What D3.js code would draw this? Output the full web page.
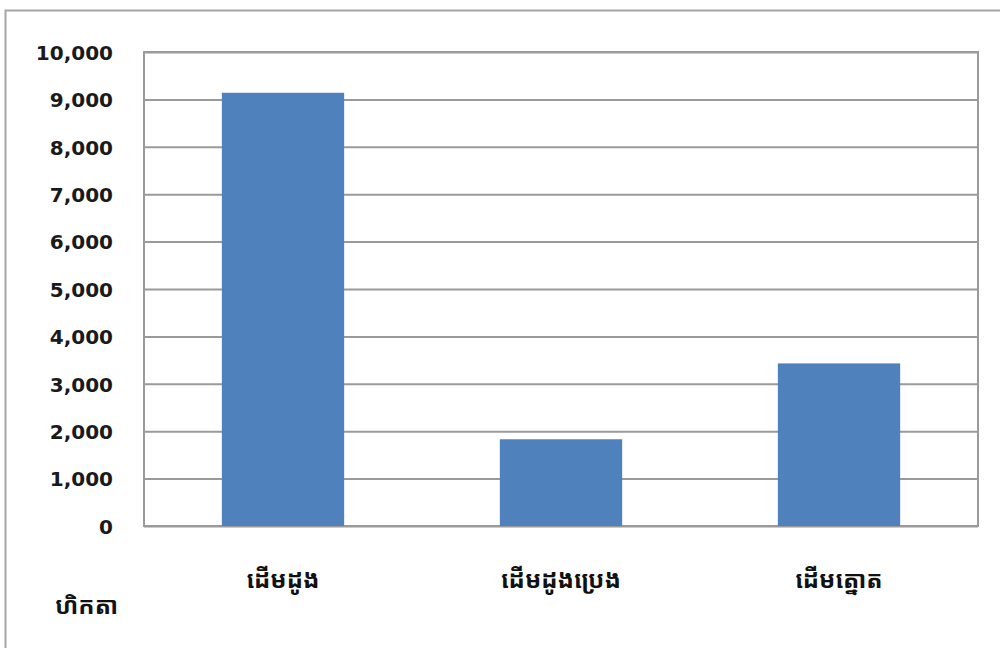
<!DOCTYPE html>
<html>
<head>
<meta charset="utf-8">
<script src="https://cdn.jsdelivr.net/npm/d3@7"></script>
<style>
  html, body { margin: 0; padding: 0; background: #fff; }
  svg { display: block; }
  .tick-label { font-family: "DejaVu Sans", "Liberation Sans", sans-serif; font-weight: 700; font-size: 20px; fill: #1a1a1a; }
  .cat-label { font-family: "Khmer OS", "Noto Sans Khmer", "Khmer OS System", "DejaVu Sans", sans-serif; font-weight: 700; font-size: 24px; fill: #111; }
</style>
</head>
<body>
<svg id="chart" width="1000" height="648"></svg>
<script>
const categories = ["ដើមដូង", "ដើមដូងប្រេង", "ដើមត្នោត"];
const values = [9140, 1830, 3430];
const tickValues = [0, 1000, 2000, 3000, 4000, 5000, 6000, 7000, 8000, 9000, 10000];
const unitLabel = "ហិកតា";

const svg = d3.select("#chart");
const plot = { left: 144, right: 978, top: 52, bottom: 526 };

// outer frame
svg.append("rect")
  .attr("x", 5.5).attr("y", 10.5)
  .attr("width", 1010).attr("height", 660)
  .attr("fill", "#fff").attr("stroke", "#a6a6a6").attr("stroke-width", 2);

const x = d3.scaleBand().domain(categories).range([plot.left, plot.right]).paddingInner(0.56).paddingOuter(0.28);
const y = d3.scaleLinear().domain([0, 10000]).range([plot.bottom, plot.top]);

// gridlines via axis
const grid = svg.append("g").attr("transform", `translate(${plot.left},0)`)
  .call(d3.axisLeft(y).tickValues(tickValues).tickSize(-(plot.right - plot.left)).tickFormat(""));
grid.select(".domain").remove();
grid.selectAll(".tick line").attr("stroke", "#9a9a9a").attr("stroke-width", 2);

// plot border
svg.append("rect")
  .attr("x", plot.left).attr("y", plot.top)
  .attr("width", plot.right - plot.left).attr("height", plot.bottom - plot.top)
  .attr("fill", "none").attr("stroke", "#9a9a9a").attr("stroke-width", 2);

// bars
svg.append("g").selectAll("rect").data(values).join("rect")
  .attr("x", (d, i) => x(categories[i]))
  .attr("y", d => y(d))
  .attr("width", x.bandwidth())
  .attr("height", d => y(0) - y(d))
  .attr("fill", "#4f81bd");

// y tick labels
const fmt = d3.format(",");
const yAx = svg.append("g").attr("transform", `translate(${plot.left},0)`)
  .call(d3.axisLeft(y).tickValues(tickValues).tickSize(0).tickPadding(31).tickFormat(fmt));
yAx.select(".domain").remove();
yAx.selectAll("text").attr("class", "tick-label").attr("dy", "0.36em");

// category labels
const xAx = svg.append("g").attr("transform", `translate(0,${plot.bottom})`)
  .call(d3.axisBottom(x).tickSize(0).tickPadding(0));
xAx.select(".domain").remove();
xAx.selectAll("text").attr("class", "cat-label").attr("dy", "0").attr("y", 62);

// unit label
svg.append("text").attr("class", "cat-label")
  .attr("x", 55).attr("y", 614).attr("text-anchor", "start")
  .text(unitLabel);
</script>
</body>
</html>
